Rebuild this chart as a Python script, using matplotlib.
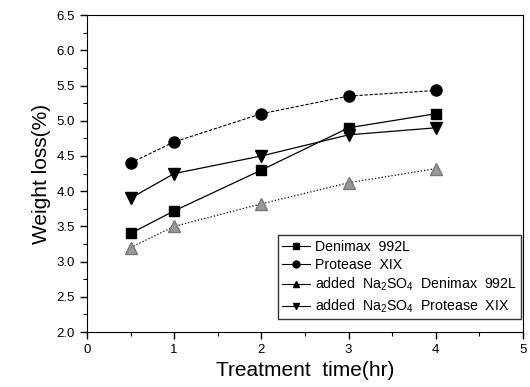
import matplotlib
matplotlib.use('Agg')
import matplotlib.pyplot as plt
from matplotlib.ticker import MultipleLocator
from matplotlib.lines import Line2D

plt.rcParams['font.family'] = ['Liberation Sans', 'DejaVu Sans']
plt.rcParams['mathtext.fontset'] = 'custom'
plt.rcParams['mathtext.rm'] = 'Liberation Sans'

time = [0.5, 1, 2, 3, 4]
denimax = [3.40, 3.72, 4.30, 4.90, 5.10]
protease = [4.40, 4.70, 5.10, 5.35, 5.43]
na_denimax = [3.20, 3.50, 3.82, 4.12, 4.32]
na_protease = [3.90, 4.25, 4.50, 4.80, 4.90]

labels = ['Denimax  992L', 'Protease  XIX',
          r'added  Na$_2$SO$_4$  Denimax  992L',
          r'added  Na$_2$SO$_4$  Protease  XIX']
markers = ['s', 'o', '^', 'v']

fig = plt.figure(figsize=(5.3, 3.87), dpi=100)
ax = fig.add_axes([0.164, 0.142, 0.823, 0.819])

ax.plot(time, denimax, '-', color='black', lw=0.9, marker='s', ms=7)
ax.plot(time, protease, '--', dashes=(3, 1.5), color='black', lw=0.8, marker='o', ms=8)
ax.plot(time, na_denimax, ':', color='black', lw=0.9, marker='^', ms=8,
        mfc='#999999', mec='#777777')
ax.plot(time, na_protease, '-', color='black', lw=0.9, marker='v', ms=8)

ax.set_xlim(0, 5)
ax.set_ylim(2.0, 6.5)
ax.xaxis.set_major_locator(MultipleLocator(1))
ax.xaxis.set_minor_locator(MultipleLocator(0.5))
ax.yaxis.set_major_locator(MultipleLocator(0.5))
ax.yaxis.set_minor_locator(MultipleLocator(0.25))
ax.set_yticklabels([f'{v:.1f}' for v in ax.get_yticks()])
ax.tick_params(which='major', length=5, width=1, labelsize=9.5)
ax.tick_params(which='minor', length=3, width=0.8)

ax.set_xlabel('Treatment  time(hr)', fontsize=15)
ax.set_ylabel('Weight loss(%)', fontsize=15)

handles = [Line2D([], [], color='black', lw=0.8, marker=m, ms=5) for m in markers]
leg = ax.legend(handles, labels, loc='lower right', bbox_to_anchor=(0.995, 0.04),
                fontsize=10.2, frameon=True, fancybox=False, edgecolor='black',
                handlelength=2.0, labelspacing=0.3, borderpad=0.3,
                handletextpad=0.3, borderaxespad=0)
leg.get_frame().set_linewidth(1.0)

fig.savefig('out.png', dpi=100)
